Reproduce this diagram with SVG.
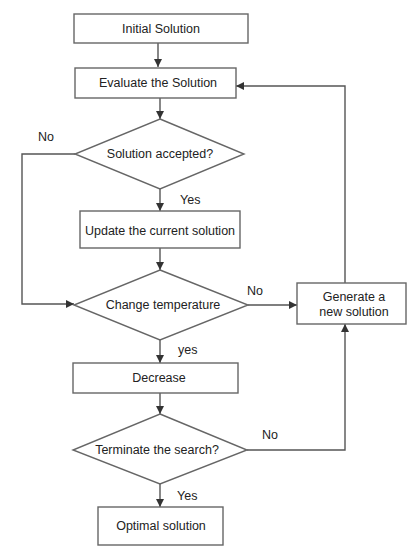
<svg xmlns="http://www.w3.org/2000/svg" width="420" height="559" viewBox="0 0 420 559">
<defs>
<marker id="ah" viewBox="0 0 10 10" refX="10" refY="5" markerWidth="8" markerHeight="8" markerUnits="userSpaceOnUse" orient="auto">
<path d="M0,0 L10,5 L0,10 Z" fill="#333"/>
</marker>
<style>
.box{fill:#fff;stroke:#666;stroke-width:1.4}
.t{font-family:"Liberation Sans",Arial,sans-serif;font-size:12.5px;fill:#222;text-anchor:middle;dominant-baseline:central}
.lbl{font-family:"Liberation Sans",Arial,sans-serif;font-size:12.5px;fill:#222}
.c{fill:none;stroke:#555;stroke-width:1.4;marker-end:url(#ah)}
</style>
</defs>
<rect width="420" height="559" fill="#fff"/>
<g id="connectors">
<path class="c" d="M158,43 V67"/>
<path class="c" d="M160,98 V119"/>
<path class="c" d="M160,189 V211"/>
<path class="c" d="M160,248 V270"/>
<path class="c" d="M75,154 H22 V304 H74"/>
<path class="c" d="M248,305 H297"/>
<path class="c" d="M345,283 V86 H236"/>
<path class="c" d="M160,340 V363"/>
<path class="c" d="M160,393 V414"/>
<path class="c" d="M247,450 H345 V324"/>
<path class="c" d="M160,484 V507"/>
</g>
<g id="n1"><rect class="box" x="74" y="14" width="174" height="29"/><text class="t" x="161" y="28.5">Initial Solution</text></g>
<g id="n2"><rect class="box" x="75" y="68" width="161" height="30"/><text class="t" x="158" y="83">Evaluate the Solution</text></g>
<g id="n3"><polygon class="box" points="160,119 244,154 160,189 75,154"/><text class="t" x="160" y="154">Solution accepted?</text></g>
<g id="n4"><rect class="box" x="80" y="211" width="160" height="37"/><text class="t" x="160" y="230.5">Update the current solution</text></g>
<g id="n5"><polygon class="box" points="160,270 248,305 160,340 74,305"/><text class="t" x="163" y="305">Change temperature</text></g>
<g id="n6"><rect class="box" x="297" y="283" width="109" height="41"/><text class="t" x="354" y="297">Generate a</text><text class="t" x="354" y="312">new solution</text></g>
<g id="n7"><rect class="box" x="73" y="363" width="165" height="30"/><text class="t" x="159" y="378">Decrease</text></g>
<g id="n8"><polygon class="box" points="160,414 247,450 160,484 73,450"/><text class="t" x="157" y="450">Terminate the search?</text></g>
<g id="n9"><rect class="box" x="98" y="507" width="125" height="38"/><text class="t" x="161" y="526">Optimal solution</text></g>
<g id="labels">
<text class="lbl" x="38" y="141">No</text>
<text class="lbl" x="180" y="204">Yes</text>
<text class="lbl" x="247" y="295">No</text>
<text class="lbl" x="178" y="354">yes</text>
<text class="lbl" x="262" y="439">No</text>
<text class="lbl" x="177" y="500">Yes</text>
</g>
</svg>
